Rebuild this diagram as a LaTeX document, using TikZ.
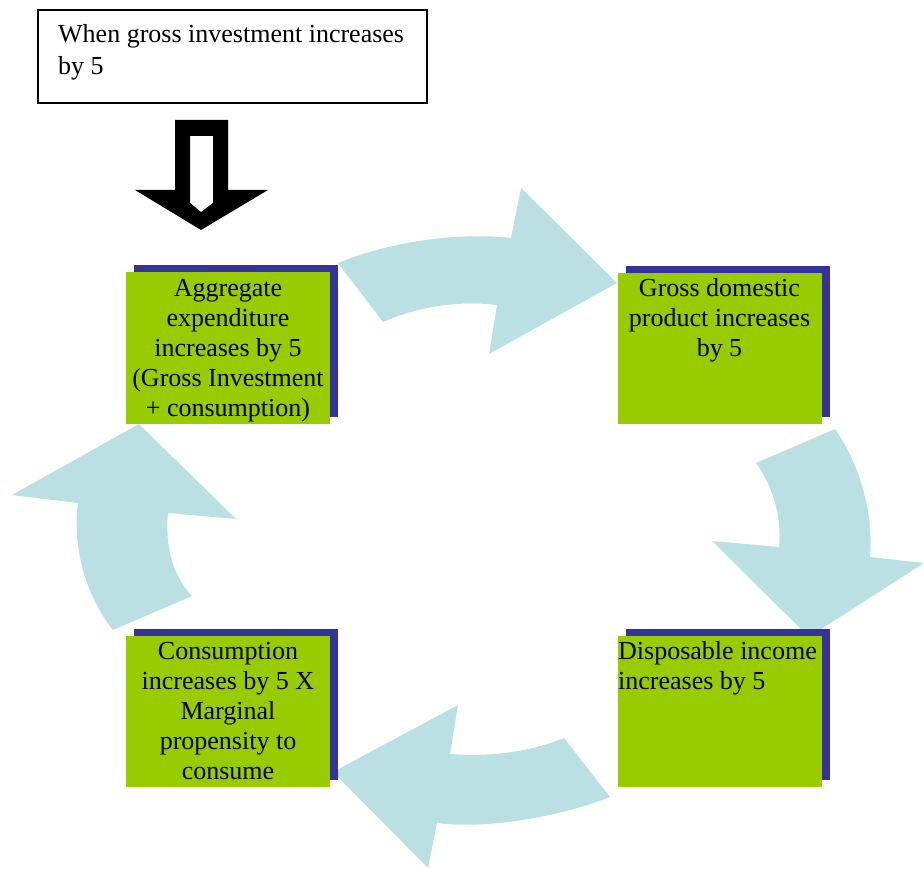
\documentclass[tikz,border=0pt]{standalone}
\usepackage{fontspec}
\setmainfont{Liberation Serif}
\usetikzlibrary{shadows}
\definecolor{flowblue}{HTML}{BBE0E3}
\definecolor{boxgreen}{HTML}{99CC00}
\definecolor{shadeblue}{HTML}{333399}
\begin{document}
\begin{tikzpicture}[x=1pt,y=-1pt,
  stage/.style={fill=boxgreen, inner sep=0, minimum width=204pt, minimum height=151pt,
    drop shadow={shadow xshift=8pt, shadow yshift=7pt, fill=shadeblue, opacity=1}},
  caption/.style={inner sep=0, anchor=base, font=\fontsize{26}{30}\selectfont},
  flow/.style={fill=flowblue}]
\useasboundingbox (0,0) rectangle (924,869);

% curved flow arrows of the cycle
\fill[flow] (338,263) .. controls (390,242) and (455,232) .. (511,238) -- (521,188) -- (617,283)
  -- (489,354) -- (497,305) .. controls (455,300) and (415,308) .. (383,322) -- cycle;
\fill[flow] (835,429) .. controls (858,462) and (874,510) .. (870,557) -- (924,563) -- (809,637)
  -- (712,541) -- (779,547) .. controls (782,515) and (772,485) .. (756,463) -- cycle;
\fill[flow] (610,797) .. controls (565,815) and (490,830) .. (437,823) -- (428,868) -- (333,772)
  -- (458,705) -- (450,754) .. controls (490,757) and (530,752) .. (564,738) -- cycle;
\fill[flow] (113,630) .. controls (85,595) and (72,545) .. (78,503) -- (12,495) -- (139,424)
  -- (236,519) -- (168,513) .. controls (165,545) and (172,575) .. (192,596) -- cycle;

% starting statement
\node[draw, line width=1.5pt, minimum width=389pt, minimum height=93pt, inner sep=0] (start) at (232.5,56.5) {};
\node[inner sep=0, anchor=base west, font=\fontsize{26}{32}\selectfont] (starttext) at (58,43)
  {\begin{minipage}[t]{380pt}\raggedright When gross investment increases\\by 5\end{minipage}};

% hollow block arrow
\fill[black, even odd rule] (175,120) -- (228,120) -- (228,190) -- (268,190) -- (201,230) -- (135,190) -- (175,190) -- cycle
  (190,136) -- (213,136) -- (213,203) -- (201,212) -- (190,203) -- cycle;

% stages of the cycle
\node[stage] (agg) at (228,348) {};
\node[stage] (gdp) at (719.5,348.5) {};
\node[stage] (disp) at (720,711.5) {};
\node[stage] (cons) at (228,711.5) {};

\node[caption] (aggtext) at (228,297)
  {\begin{minipage}[t]{204pt}\centering Aggregate\\expenditure\\increases by 5\\(Gross Investment\\+ consumption)\end{minipage}};
\node[caption] (gdptext) at (719.5,297)
  {\begin{minipage}[t]{204pt}\centering Gross domestic\\product increases\\by 5\end{minipage}};
\node[caption, anchor=base west] (disptext) at (618,659)
  {\begin{minipage}[t]{215pt}\raggedright Disposable income\\increases by 5\end{minipage}};
\node[caption] (constext) at (228,659)
  {\begin{minipage}[t]{204pt}\centering Consumption\\increases by 5 X\\Marginal\\propensity to\\consume\end{minipage}};
\end{tikzpicture}
\end{document}
